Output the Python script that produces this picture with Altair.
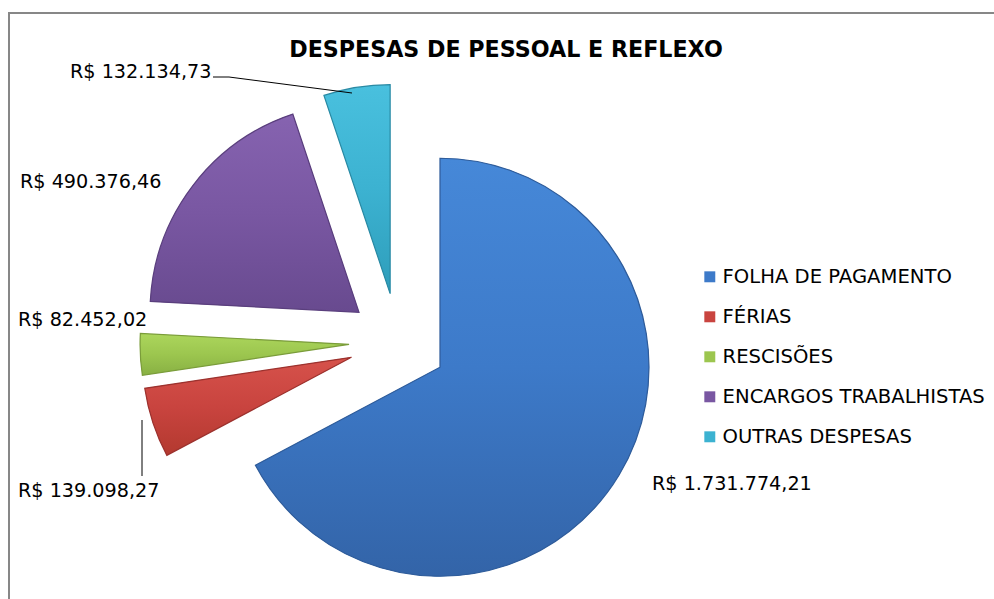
import math
import altair as alt
import pandas as pd

# ---------------- data ----------------
categories = ["FOLHA DE PAGAMENTO", "FÉRIAS", "RESCISÕES", "ENCARGOS TRABALHISTAS", "OUTRAS DESPESAS"]
values = [1731774.21, 139098.27, 82452.02, 490376.46, 132134.73]
value_labels = ["R$ 1.731.774,21", "R$ 139.098,27", "R$ 82.452,02", "R$ 490.376,46", "R$ 132.134,73"]
title_text = "DESPESAS DE PESSOAL E REFLEXO"

# ---------------- style / layout ----------------
colors = ["#3d7ac9", "#c9443f", "#9cc64f", "#7957a2", "#3cb2d1"]
grad_top = ["#4688d8", "#d6524b", "#acd65c", "#8663b0", "#49c0de"]
grad_bot = ["#3364a8", "#b3392f", "#88b043", "#684a8f", "#2e9dba"]
edge = ["#2f5c9a", "#9c322e", "#7a9c3a", "#5a3f7d", "#2a8aa4"]
CX, CY = 398, 342      # pie centre in px
EXPLODE = 49           # explosion distance in px
R = 209                # pie radius in px
label_dx = [254, -380, -380, -378, -328]   # label left edge relative to centre
label_dy = [142, 149, -22, -160, -270]     # label middle relative to centre
W, H = 994, 599
FONT = "DejaVu Sans"

df = pd.DataFrame({
    "category": categories,
    "value": values,
    "label": value_labels,
    "order": list(range(len(categories))),
    "ldx": label_dx,
    "ldy": label_dy,
})

base = (
    alt.Chart(df)
    .transform_joinaggregate(total="sum(value)")
    .transform_window(cum="sum(value)", sort=[alt.SortField("order")], frame=[None, 0])
    .transform_calculate(
        a0="(datum.cum - datum.value) / datum.total * 2 * PI",
        a1="datum.cum / datum.total * 2 * PI",
    )
    .transform_calculate(mid="(datum.a0 + datum.a1) / 2")
    .transform_calculate(
        cx=f"{CX} + {EXPLODE} * sin(datum.mid)",
        cy=f"{CY} - {EXPLODE} * cos(datum.mid)",
        lx=f"{CX} + datum.ldx",
        ly=f"{CY} + datum.ldy",
    )
)

arc_enc = dict(
    x=alt.X("cx:Q", scale=None, axis=None),
    y=alt.Y("cy:Q", scale=None, axis=None),
    theta=alt.Theta("a0:Q", scale=None, stack=None),
    theta2="a1:Q",
)

arcs = base.mark_arc(outerRadius=R).encode(
    color=alt.Color(
        "category:N",
        scale=alt.Scale(domain=categories, range=colors),
        sort=categories,
        legend=alt.Legend(
            title=None,
            orient="none",
            legendX=700,
            legendY=267,
            symbolType="square",
            symbolSize=120,
            symbolStrokeWidth=0,
            labelFont=FONT,
            labelFontSize=19.6,
            labelColor="#000000",
            labelOffset=3,
            rowPadding=19,
            labelLimit=400,
        ),
    ),
    **arc_enc,
)

overlays = []
for i, cat in enumerate(categories):
    overlays.append(
        base.transform_filter(alt.datum.category == cat)
        .mark_arc(
            outerRadius=R,
            stroke=edge[i],
            strokeWidth=1.2,
            color=alt.Gradient(
                gradient="linear",
                stops=[alt.GradientStop(color=grad_top[i], offset=0),
                       alt.GradientStop(color=colors[i], offset=0.5),
                       alt.GradientStop(color=grad_bot[i], offset=1)],
                x1=0, x2=0, y1=0, y2=1,
            ),
        )
        .encode(**arc_enc)
    )

labels = base.mark_text(
    align="left", baseline="middle", font=FONT, fontSize=19.2, color="#000000"
).encode(
    x=alt.X("lx:Q", scale=None, axis=None),
    y=alt.Y("ly:Q", scale=None, axis=None),
    text="label:N",
)

title = alt.Chart(pd.DataFrame({"t": [title_text]})).mark_text(
    font=FONT, fontSize=22.2, fontWeight="bold", align="center", baseline="middle", color="#000000"
).encode(x=alt.value(506), y=alt.value(50), text="t:N")

line_style = dict(color="#000000", strokeWidth=1)
leader1 = alt.Chart(pd.DataFrame({"a": [0]})).mark_rule(**line_style).encode(
    x=alt.value(213), x2=alt.value(229), y=alt.value(77), y2=alt.value(77))
leader2 = alt.Chart(pd.DataFrame({"a": [0]})).mark_rule(**line_style).encode(
    x=alt.value(229), x2=alt.value(352), y=alt.value(77), y2=alt.value(93))
leader3 = alt.Chart(pd.DataFrame({"a": [0]})).mark_rule(**line_style).encode(
    x=alt.value(142), x2=alt.value(142), y=alt.value(420), y2=alt.value(476))

border_style = dict(color="#878787", strokeWidth=2)
border_left = alt.Chart(pd.DataFrame({"a": [0]})).mark_rule(**border_style).encode(
    x=alt.value(9), x2=alt.value(9), y=alt.value(13), y2=alt.value(H))
border_top = alt.Chart(pd.DataFrame({"a": [0]})).mark_rule(**border_style).encode(
    x=alt.value(8), x2=alt.value(W), y=alt.value(13), y2=alt.value(13))

chart = (
    alt.layer(arcs, *overlays, labels, leader1, leader2, leader3, title, border_left, border_top)
    .properties(width=W, height=H, padding=0, autosize=alt.AutoSizeParams(type="none"), background="#ffffff")
    .configure_view(stroke=None)
)

chart.save("out.html", embed_options={"renderer": "svg", "actions": False})
